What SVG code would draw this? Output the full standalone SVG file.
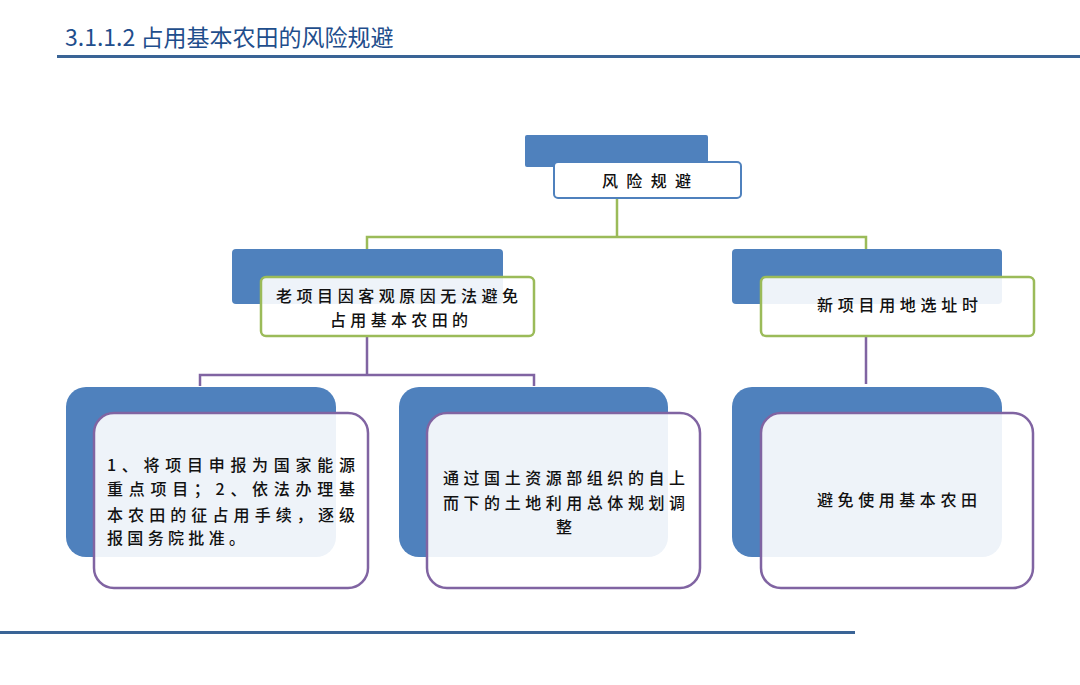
<svg xmlns="http://www.w3.org/2000/svg" width="1080" height="685" viewBox="0 0 1080 685">
<style>
.t{font-family:"Noto Sans CJK SC","Noto Sans",sans-serif;fill:#111;font-size:16px;font-weight:500}
.back{fill:#4f81bd}
.front{fill:#ffffff;fill-opacity:0.9}
.g{stroke:#9bbb59;stroke-width:2.5}
.p{stroke:#8064a2;stroke-width:2.5}
</style>
<rect width="1080" height="685" fill="#fff"/>
<text x="65" y="46" font-family="Noto Sans CJK SC, Noto Sans, sans-serif" font-size="23" fill="#1f4e8c">3.1.1.2 占用基本农田的风险规避</text>
<rect x="57" y="55" width="1023" height="3" fill="#3a6496"/>
<rect x="0" y="631" width="855" height="3" fill="#3a6496"/>
<g id="connectors" fill="none">
<path d="M617 198V237M367 250V237H866V250" stroke="#9bbb59" stroke-width="2.5"/>
<path d="M367 336V375M200 386V375H534V386M866 336V384" stroke="#8064a2" stroke-width="2.5"/>
</g>
<g id="root">
<rect class="back" x="525" y="135" width="183" height="32" rx="2"/>
<rect x="554" y="162" width="187" height="36" rx="4" fill="#fff" stroke="#4f81bd" stroke-width="2"/>
<text class="t" x="602" y="187" textLength="89" lengthAdjust="spacing">风险规避</text>
</g>
<g id="old">
<rect class="back" x="232" y="249" width="271" height="55" rx="4"/>
<rect class="front g" x="261" y="277" width="273" height="59" rx="5"/>
<text class="t" x="276" y="302" textLength="242" lengthAdjust="spacing">老项目因客观原因无法避免</text>
<text class="t" x="330" y="326" textLength="138" lengthAdjust="spacing">占用基本农田的</text>
</g>
<g id="new">
<rect class="back" x="732" y="249" width="270" height="55" rx="4"/>
<rect class="front g" x="761" y="277" width="273" height="59" rx="5"/>
<text class="t" x="817" y="311" textLength="161" lengthAdjust="spacing">新项目用地选址时</text>
</g>
<g id="a1">
<rect class="back" x="66" y="387" width="270" height="170" rx="20"/>
<rect class="front p" x="94" y="413" width="274" height="175" rx="20"/>
<text class="t" x="107" y="471" textLength="248" lengthAdjust="spacing">1、将项目申报为国家能源</text>
<text class="t" x="107" y="495" textLength="248" lengthAdjust="spacing">重点项目；2、依法办理基</text>
<text class="t" x="107" y="521" textLength="248" lengthAdjust="spacing">本农田的征占用手续，逐级</text>
<text class="t" x="107" y="544" textLength="138" lengthAdjust="spacing">报国务院批准。</text>
</g>
<g id="a2">
<rect class="back" x="399" y="387" width="269" height="170" rx="20"/>
<rect class="front p" x="427" y="413" width="273" height="175" rx="20"/>
<text class="t" x="443" y="484" textLength="242" lengthAdjust="spacing">通过国土资源部组织的自上</text>
<text class="t" x="443" y="509" textLength="242" lengthAdjust="spacing">而下的土地利用总体规划调</text>
<text class="t" x="564" y="533" text-anchor="middle">整</text>
</g>
<g id="a3">
<rect class="back" x="732" y="387" width="270" height="170" rx="20"/>
<rect class="front p" x="761" y="413" width="272" height="175" rx="20"/>
<text class="t" x="817" y="506" textLength="160" lengthAdjust="spacing">避免使用基本农田</text>
</g>
</svg>
